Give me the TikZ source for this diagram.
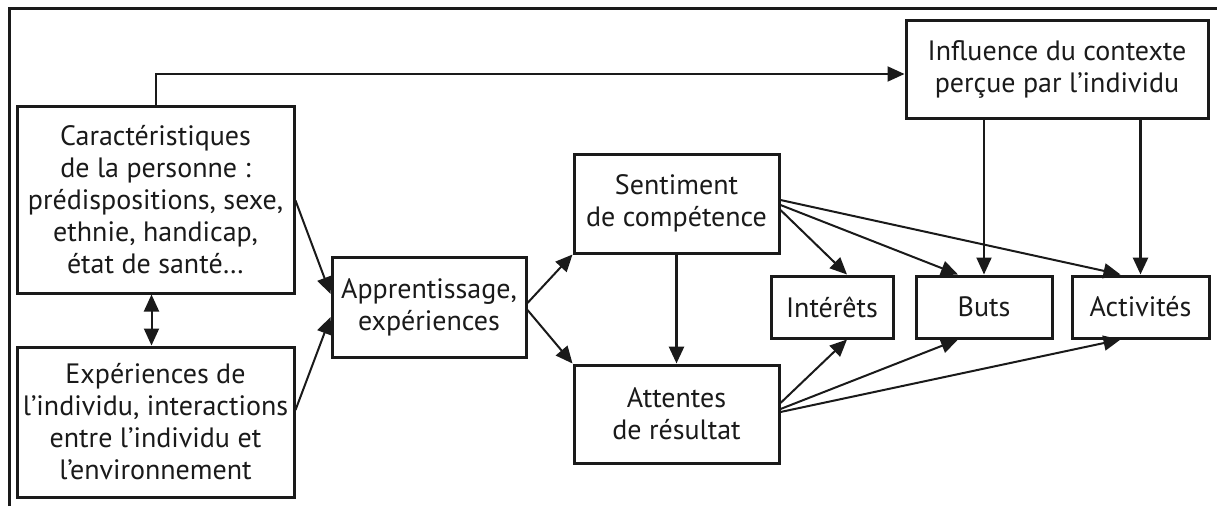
\documentclass[tikz,border=0pt]{standalone}
\usepackage{fontspec}
\setmainfont{PT Sans}
\usetikzlibrary{arrows.meta}
\definecolor{ink}{HTML}{1A1A1A}
\begin{document}
\begin{tikzpicture}[x=1pt,y=-1pt,
  box/.style={draw=ink,line width=3pt,align=center,inner sep=0pt,text=ink,
    font=\fontsize{28}{32}\selectfont},
  conn/.style={draw=ink,line width=2pt,-{Triangle[length=17pt,width=15pt]}},
  thickconn/.style={conn,line width=2.8pt}]
\useasboundingbox (0,0) rectangle (1217,506);
\fill[white] (0,0) rectangle (1217,506);
\draw[ink,line width=3pt] (9,506) -- (9,8) -- (1217,8);
\node[box,minimum width=277pt,minimum height=187pt] (car) at (155.5,199.5)
  {Caractéristiques\\de la personne :\\prédispositions, sexe,\\ethnie, handicap,\\état de santé…};
\node[box,minimum width=277pt,minimum height=150pt] (exp) at (155.5,422)
  {Expériences de\\l’individu, interactions\\entre l’individu et\\l’environnement};
\node[box,minimum width=194pt,minimum height=100pt] (app) at (429,307)
  {Apprentissage,\\expériences};
\node[box,minimum width=205pt,minimum height=99pt] (sen) at (676.5,203.5)
  {Sentiment\\de compétence};
\node[box,minimum width=205pt,minimum height=98pt] (att) at (676.5,414)
  {Attentes\\de résultat};
\node[box,minimum width=122pt,minimum height=62pt] (int) at (832,307) {Intérêts};
\node[box,minimum width=136pt,minimum height=62pt] (but) at (984,307) {Buts};
\node[box,minimum width=137pt,minimum height=62pt] (act) at (1140.5,307) {Activités};
\node[box,minimum width=302pt,minimum height=98pt] (inf) at (1057,69)
  {Influence du contexte\\perçue par l’individu};
% connectors
\draw[conn] (car.north) |- ([yshift=-5pt]inf.west);
\draw[draw=ink,line width=2pt,{Triangle[length=17pt,width=15pt]}-{Triangle[length=17pt,width=15pt]}]
  ([xshift=-4pt]car.south) -- ([xshift=-4pt]exp.north);
\draw[conn] ([yshift=-1pt]car.east) -- ([yshift=13pt]app.west);
\draw[conn] ([yshift=12pt]exp.east) -- ([yshift=-10pt]app.west);
\draw[conn] ([yshift=4pt]app.east) -- (sen.south west);
\draw[conn] ([yshift=-3pt]app.east) -- (att.north west);
\draw[thickconn] (sen.south) -- (att.north);
\draw[conn] ([yshift=3.5pt]sen.east) -- ([xshift=-20pt]act.north);
\draw[conn] ([yshift=-1.5pt]sen.east) -- ([xshift=-26pt]but.north);
\draw[conn] ([yshift=-6.5pt]sen.east) -- ([xshift=15pt]int.north);
\draw[conn] (inf.south -| but.north) -- (but.north);
\draw[thickconn] (inf.south -| act.north) -- (act.north);
\draw[conn] ([yshift=11pt]att.east) -- ([xshift=15pt]int.south);
\draw[conn] ([yshift=5pt]att.east) -- ([xshift=-26pt]but.south);
\draw[conn] ([yshift=2pt]att.east) -- ([xshift=-20pt]act.south);
\end{tikzpicture}
\end{document}
